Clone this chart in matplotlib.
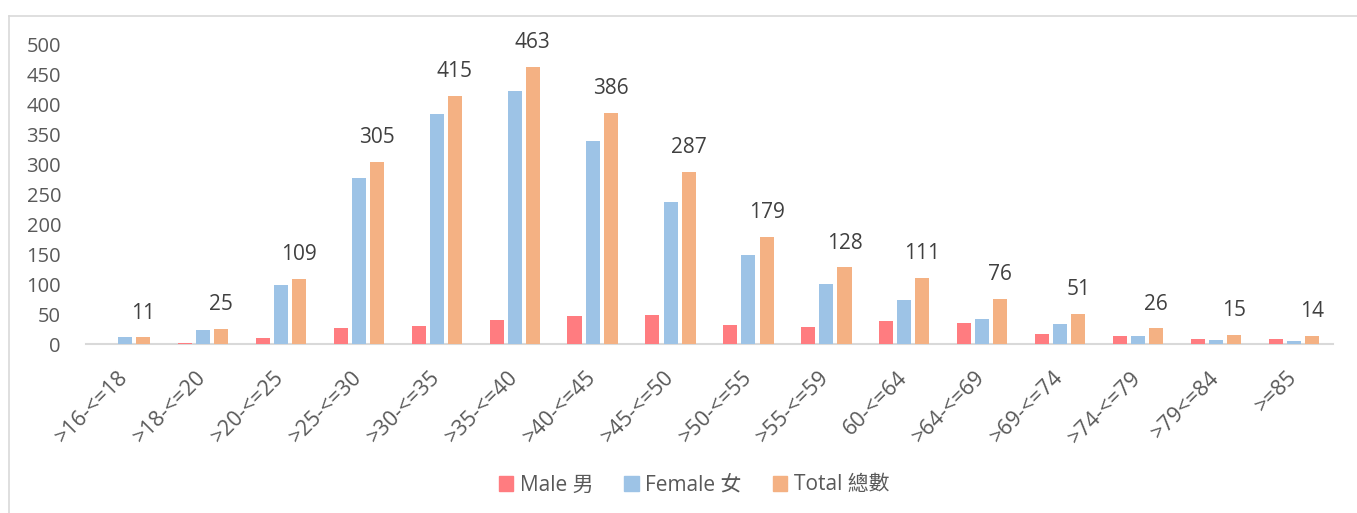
import matplotlib
matplotlib.use("Agg")
import matplotlib.pyplot as plt
from matplotlib.lines import Line2D
import numpy as np

plt.rcParams['font.family'] = ['Open Sans', 'Noto Sans CJK TC', 'DejaVu Sans']

categories = [">16-<=18", ">18-<=20", ">20-<=25", ">25-<=30", ">30-<=35", ">35-<=40",
              ">40-<=45", ">45-<=50", ">50-<=55", ">55-<=59", "60-<=64", ">64-<=69",
              ">69-<=74", ">74-<=79", ">79<=84", ">=85"]
male = [0, 2, 10, 27, 30, 40, 47, 49, 31, 28, 38, 35, 17, 13, 9, 9]
female = [11, 23, 99, 278, 385, 423, 339, 238, 148, 100, 73, 41, 34, 13, 6, 5]
total = [11, 25, 109, 305, 415, 463, 386, 287, 179, 128, 111, 76, 51, 26, 15, 14]
series_names = ["Male 男", "Female 女", "Total 總數"]
colors = ["#FF7C80", "#9DC3E6", "#F4B183"]
yticks = [0, 50, 100, 150, 200, 250, 300, 350, 400, 450, 500]

W, H = 1357, 513
fig = plt.figure(figsize=(W / 100, H / 100), dpi=100)
ax = fig.add_axes([86 / W, (H - 344) / H, (1333 - 86) / W, (344 - 45) / H])

x = np.arange(len(categories))
bw = 0.18
step = 0.232
for i, (vals, c, n) in enumerate(zip([male, female, total], colors, series_names)):
    ax.bar(x + (i - 1) * step, vals, width=bw, color=c, label=n, zorder=3)

for xi, v in zip(x, total):
    ax.annotate(str(v), (xi + step, v), xytext=(0, 10), textcoords='offset points',
                ha='center', va='bottom', fontsize=15, color='#404040')

ax.set_xlim(-0.5, len(categories) - 0.5)
ax.set_ylim(0, 500)
ax.set_yticks(yticks)
ax.set_yticklabels([str(t) for t in yticks], fontsize=14.5, color='#595959')
ax.set_xticks(x)
ax.set_xticklabels(categories, rotation=45, ha='right', va='center',
                   rotation_mode='anchor', fontsize=15.5, color='#595959')
ax.tick_params(axis='both', length=0)
ax.tick_params(axis='y', pad=18)
ax.tick_params(axis='x', pad=22)
for s in ['top', 'right', 'left']:
    ax.spines[s].set_visible(False)
ax.spines['bottom'].set_color('#D9D9D9')
ax.spines['bottom'].set_linewidth(1.5)
ax.spines['bottom'].set_zorder(2)

handles = [plt.Rectangle((0, 0), 1, 1, color=c) for c in colors]
fig.legend(handles, series_names, loc='center', bbox_to_anchor=(694 / W, 1 - 485 / H),
           ncol=3, frameon=False, fontsize=15, handlelength=0.7, handleheight=0.7,
           columnspacing=1.5, handletextpad=0.3, labelcolor='#595959')

# outer chart border (top and left visible)
fig.add_artist(Line2D([9 / W, 1.0], [1 - 16 / H, 1 - 16 / H], color='#D9D9D9', lw=1.2,
                      transform=fig.transFigure))
fig.add_artist(Line2D([9 / W, 9 / W], [0, 1 - 16 / H], color='#D9D9D9', lw=1.2,
                      transform=fig.transFigure))

fig.savefig('out.png', dpi=100)
